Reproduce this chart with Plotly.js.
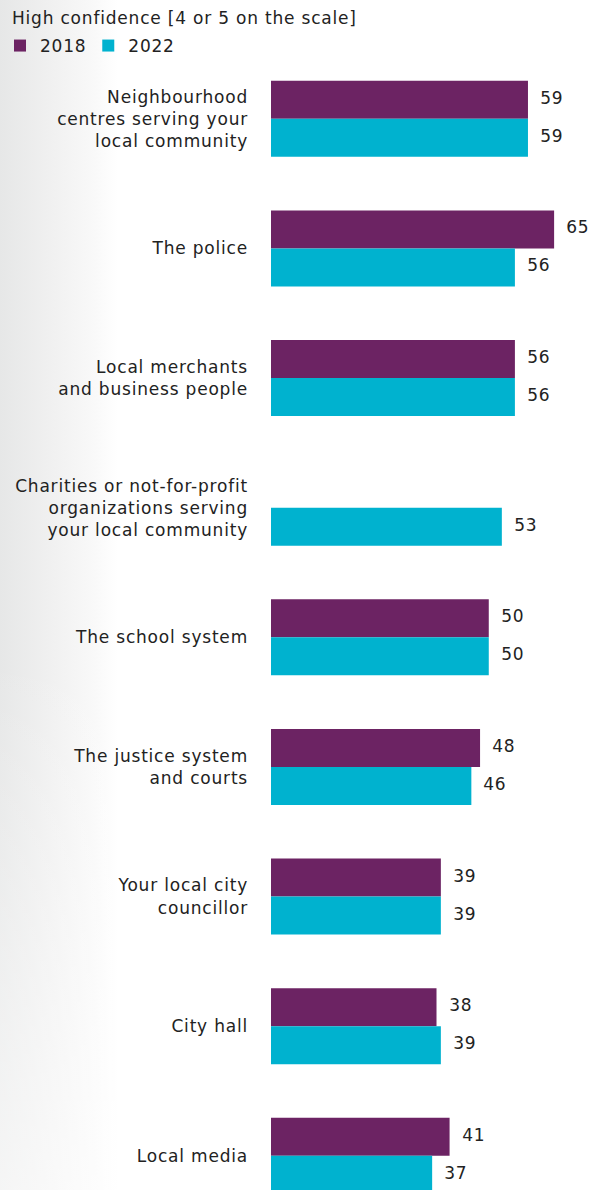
<!DOCTYPE html>
<html>
<head>
<meta charset="utf-8">
<script src="https://cdn.plot.ly/plotly-3.0.1.min.js"></script>
<style>
html,body{margin:0;padding:0;}
body{width:592px;height:1190px;background:
  linear-gradient(to bottom, rgba(255,255,255,0) 0%, rgba(255,255,255,0) 55%, rgba(255,255,255,0.6) 100%),
  linear-gradient(to right,#e6e7e7 0px,#f0f0f0 50px,#f9f9f9 95px,#ffffff 118px,#ffffff 100%);}
#chart{width:592px;height:1190px;}
#chart text{letter-spacing:0.8px;}
</style>
</head>
<body>
<div id="chart"></div>
<script>
const categories = [
  "Neighbourhood<br>centres serving your<br>local community",
  "The police",
  "Local merchants<br>and business people",
  "Charities or not-for-profit<br>organizations serving<br>your local community",
  "The school system",
  "The justice system<br>and courts",
  "Your local city<br>councillor",
  "City hall",
  "Local media"
];
const values2018 = [59, 65, 56, null, 50, 48, 39, 38, 41];
const values2022 = [59, 56, 56, 53, 50, 46, 39, 39, 37];
const seriesNames = ["2018", "2022"];
const colors = ["#6c2363", "#00b2cf"];

const fontFam = "'DejaVu Sans', sans-serif";
const fs = 17;
const traces = [values2018, values2022].map((vals, i) => ({
  type: "bar",
  orientation: "h",
  name: seriesNames[i],
  x: vals,
  y: categories,
  marker: {color: colors[i]},
  hoverinfo: "skip"
}));

const annotations = [];
[values2018, values2022].forEach((vals, i) => {
  vals.forEach((v, j) => {
    if (v === null) return;
    annotations.push({
      x: v, y: categories[j], xref: "x", yref: "y",
      text: String(v), showarrow: false,
      xanchor: "left", yanchor: "middle",
      xshift: 11, yshift: i === 0 ? 21 : -17,
      font: {family: fontFam, size: fs, color: "#222"}
    });
  });
});

const layout = {
  width: 592, height: 1190,
  margin: {l: 271, r: 0, t: 54, b: 0, autoexpand: false},
  paper_bgcolor: "rgba(0,0,0,0)",
  plot_bgcolor: "rgba(0,0,0,0)",
  barmode: "group",
  bargap: 0.4136,
  bargroupgap: 0,
  font: {family: fontFam, size: fs, color: "#222"},
  title: {
    text: "High confidence [4 or 5 on the scale]",
    x: 12 / 592, xref: "container", xanchor: "left",
    y: 1 - 18 / 1190, yref: "container", yanchor: "middle",
    automargin: false,
    font: {family: fontFam, size: fs, color: "#222"}
  },
  showlegend: true,
  legend: {
    orientation: "h",
    xref: "container", yref: "container",
    x: 0, y: 1 - 46 / 1190, xanchor: "left", yanchor: "middle",
    font: {family: fontFam, size: fs, color: "#222"},
    itemwidth: 30,
    traceorder: "normal",
    bgcolor: "rgba(0,0,0,0)"
  },
  xaxis: {
    range: [0, 73.7],
    visible: false,
    fixedrange: true
  },
  yaxis: {
    type: "category",
    range: [8.264, -0.5],
    showgrid: false, zeroline: false, showline: false,
    ticks: "",
    ticklabelstandoff: 22,
    automargin: false,
    tickfont: {family: fontFam, size: fs, color: "#222"},
    fixedrange: true
  },
  annotations: annotations
};

Plotly.newPlot("chart", traces, layout, {displayModeBar: false, staticPlot: true});
</script>
</body>
</html>
